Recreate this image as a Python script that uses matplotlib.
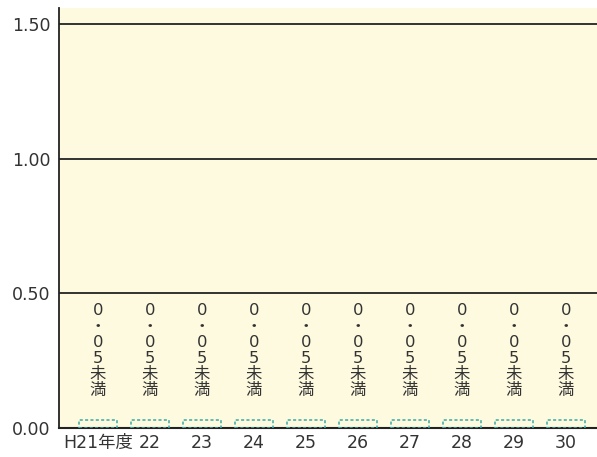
import numpy as np
import matplotlib.pyplot as plt

plt.rcParams['font.family'] = ['DejaVu Sans', 'Noto Sans CJK JP']

categories = ['H21年度', '22', '23', '24', '25', '26', '27', '28', '29', '30']
values = [0.03] * 10
labels = ['0\n・\n0\n5\n未\n満'] * 10
yticks = [0.0, 0.5, 1.0, 1.5]

fig = plt.figure(figsize=(5.97, 4.57), dpi=100)
ax = fig.add_axes([59/597, 1 - 428/457, 538/597, 420/457])
ax.set_facecolor('#fefadf')

x = np.arange(len(categories))
ax.bar(x, values, width=0.73, facecolor='none', edgecolor='#3aaaa5',
       linestyle=(0, (2, 1.5)), linewidth=1.1, zorder=3)

for xi, t in zip(x, labels):
    ax.text(xi, 0.465, t, ha='center', va='top', fontsize=11.8,
            color='#333333', linespacing=1.08)

for y in yticks[1:]:
    ax.axhline(y, color='#222222', linewidth=1.3, zorder=2)

ax.set_xlim(-0.75, 9.6)
ax.set_ylim(0, 1.56)
ax.set_xticks(x)
ax.set_xticklabels(categories, fontsize=12.5, color='#333333')
ax.set_yticks(yticks)
ax.set_yticklabels(['%.2f' % v for v in yticks], fontsize=12.5, color='#333333')
ax.tick_params(length=0, pad=6)
ax.tick_params(axis='x', pad=4)
for s in ['top', 'right']:
    ax.spines[s].set_visible(False)
ax.spines['left'].set_color('#222222')
ax.spines['bottom'].set_color('#222222')
ax.spines['left'].set_linewidth(1.3)
ax.spines['bottom'].set_linewidth(1.5)

fig.savefig('out.png', dpi=100)
